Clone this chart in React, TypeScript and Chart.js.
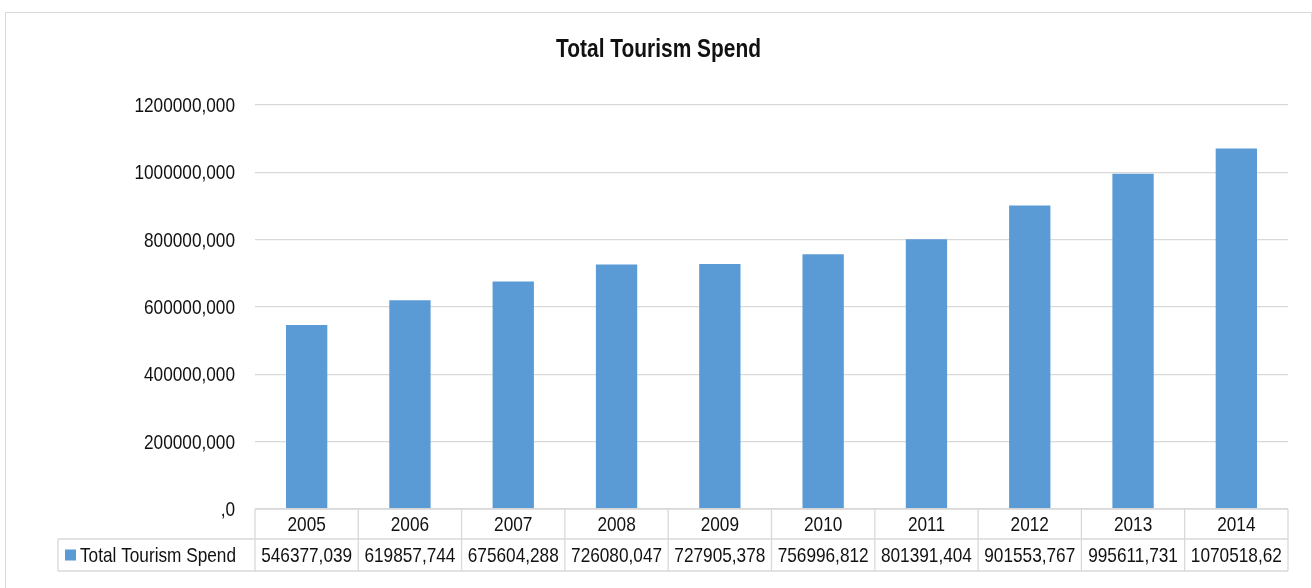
import React, { useEffect, useRef } from "react";
import { Chart, registerables } from "chart.js";

Chart.register(...registerables);

const years = ["2005", "2006", "2007", "2008", "2009", "2010", "2011", "2012", "2013", "2014"];
const spend = [546377.039, 619857.744, 675604.288, 726080.047, 727905.378, 756996.812, 801391.404, 901553.767, 995611.731, 1070518.62];
const seriesName = "Total Tourism Spend";
const chartTitle = "Total Tourism Spend";

const FONT = "'Liberation Sans', Arial, sans-serif";
const NARROW = 0.82;
const BAR = "#5B9BD5";
const GRID = "#D9D9D9";
const TEXT = "#111111";

const fmt = (v: number) => String(v).replace(".", ",");
const tickText = (v: number) => (v === 0 ? ",0" : `${v},000`);

function narrowText(ctx: CanvasRenderingContext2D, text: string, x: number, y: number, align: CanvasTextAlign) {
  ctx.save();
  ctx.translate(x, y);
  ctx.scale(NARROW, 1);
  ctx.textAlign = align;
  ctx.textBaseline = "alphabetic";
  ctx.fillText(text, 0, 0);
  ctx.restore();
}

const tablePlugin = {
  id: "dataTable",
  afterDraw(chart: any) {
    const { ctx, chartArea, scales } = chart;
    const xs = scales.x;
    const ys = scales.y;
    const n = years.length;
    const w = (chartArea.right - chartArea.left) / n;
    const top = chartArea.bottom;
    const r1 = top + 30;
    const r2 = top + 62;
    const legLeft = 52;
    ctx.save();
    ctx.strokeStyle = GRID;
    ctx.lineWidth = 1.3;
    ctx.beginPath();
    ctx.moveTo(chartArea.left, top);
    ctx.lineTo(chartArea.right, top);
    ctx.moveTo(legLeft, r1);
    ctx.lineTo(chartArea.right, r1);
    ctx.moveTo(legLeft, r2);
    ctx.lineTo(chartArea.right, r2);
    ctx.moveTo(legLeft, r1);
    ctx.lineTo(legLeft, r2);
    for (let i = 0; i <= n; i++) {
      const bx = i < n ? xs.getPixelForValue(i) - w / 2 : xs.getPixelForValue(n - 1) + w / 2;
      ctx.moveTo(bx, top);
      ctx.lineTo(bx, r2);
    }
    ctx.stroke();

    ctx.fillStyle = TEXT;
    ctx.font = `21px ${FONT}`;
    for (let i = 0; i < n; i++) {
      const cx = xs.getPixelForValue(i);
      narrowText(ctx, years[i], cx, top + 21.5, "center");
      narrowText(ctx, fmt(spend[i]), cx, r1 + 23.4, "center");
    }
    // y-axis tick labels
    for (const t of ys.ticks) {
      const y = ys.getPixelForValue(t.value);
      narrowText(ctx, tickText(t.value), chartArea.left - 20, y + 7, "right");
    }
    // legend key
    ctx.fillStyle = BAR;
    ctx.fillRect(59, r1 + 10.5, 11, 11);
    ctx.fillStyle = TEXT;
    narrowText(ctx, seriesName, 74, r1 + 23.4, "left");
    // title
    ctx.font = `bold 25.5px ${FONT}`;
    narrowText(ctx, chartTitle, chart.width / 2, 44, "center");
    ctx.restore();
  },
};

export default function App() {
  const ref = useRef<HTMLCanvasElement | null>(null);
  useEffect(() => {
    if (!ref.current) return;
    const chart = new Chart(ref.current, {
      type: "bar",
      data: {
        labels: years,
        datasets: [
          {
            label: seriesName,
            data: spend,
            backgroundColor: BAR,
            borderWidth: 0,
            categoryPercentage: 1,
            barPercentage: 0.4,
          },
        ],
      },
      options: {
        animation: false,
        responsive: false,
        layout: { padding: { left: 0, right: 23, top: 92, bottom: 0 } },
        plugins: {
          legend: { display: false },
          tooltip: { enabled: false },
          title: { display: false },
        },
        scales: {
          x: {
            grid: { display: false, drawTicks: false },
            border: { display: false },
            ticks: { display: false },
            afterFit(scale: any) {
              scale.height = 94;
            },
          },
          y: {
            min: 0,
            max: 1200000,
            ticks: { stepSize: 200000, display: false },
            grid: { color: GRID, lineWidth: 1.3, drawTicks: false },
            border: { display: false },
            afterFit(scale: any) {
              scale.width = 249;
            },
          },
        },
      },
      plugins: [tablePlugin],
    });
    return () => chart.destroy();
  }, []);
  return (
    <div
      style={{
        position: "absolute",
        left: 5,
        top: 12,
        width: 1305,
        height: 590,
        border: "1px solid #D9D9D9",
        background: "#fff",
      }}
    >
      <canvas ref={ref} width={1305} height={590} style={{ display: "block" }} />
    </div>
  );
}
